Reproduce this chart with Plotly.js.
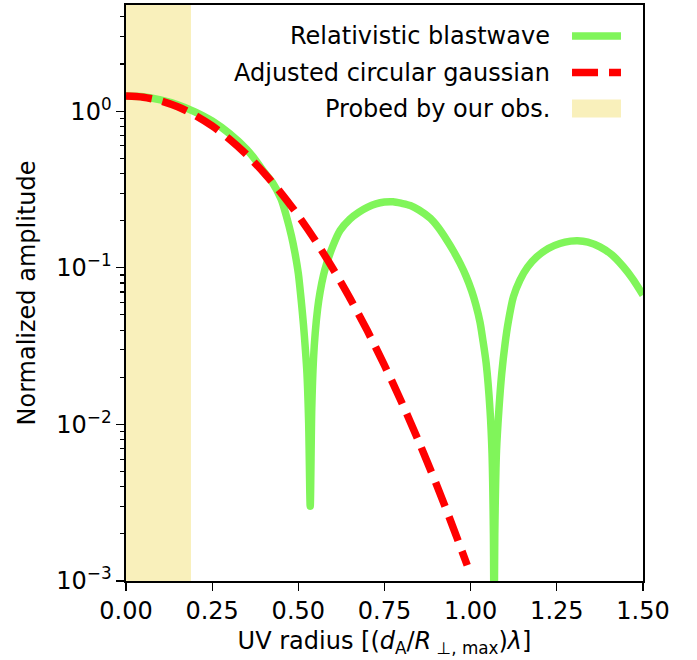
<!DOCTYPE html>
<html>
<head>
<meta charset="utf-8">
<script src="https://cdn.plot.ly/plotly-3.0.1.min.js"></script>
<style>html,body{margin:0;padding:0;background:#fff;}#chart{width:697px;height:660px;}</style>
</head>
<body>
<div id="chart"></div>
<script>
// Relativistic blastwave (green, solid)
const blastX = [0, 0.05, 0.1, 0.15, 0.2, 0.25, 0.3, 0.35, 0.375, 0.4, 0.425, 0.45, 0.465, 0.48, 0.49, 0.5, 0.508, 0.515, 0.52, 0.525, 0.53, 0.5345, 0.539, 0.544, 0.549, 0.556, 0.563, 0.573, 0.583, 0.6, 0.621, 0.65, 0.675, 0.7, 0.725, 0.75, 0.775, 0.8, 0.825, 0.85, 0.883, 0.905, 0.931, 0.95, 0.969, 0.987, 1.003, 1.015, 1.027, 1.035, 1.045, 1.056, 1.062, 1.066, 1.068, 1.07, 1.075, 1.082, 1.09, 1.1, 1.109, 1.124, 1.143, 1.165, 1.192, 1.225, 1.259, 1.29, 1.31, 1.34, 1.375, 1.41, 1.443, 1.47, 1.5];
const blastY = [1.25, 1.235, 1.18, 1.10, 0.99, 0.865, 0.72, 0.57, 0.49, 0.41, 0.35, 0.275, 0.215, 0.16, 0.125, 0.092, 0.063, 0.043, 0.031, 0.0212, 0.0102, 0.003, 0.0128, 0.0261, 0.0384, 0.0548, 0.0698, 0.0897, 0.1077, 0.1376, 0.173, 0.205, 0.226, 0.243, 0.256, 0.263, 0.264, 0.258, 0.25, 0.234, 0.207, 0.182, 0.150, 0.128, 0.107, 0.088, 0.071, 0.058, 0.045, 0.035, 0.0245, 0.0125, 0.0065, 0.002, 0.0004, 0.002, 0.0068, 0.0125, 0.021, 0.033, 0.045, 0.0653, 0.0835, 0.101, 0.1175, 0.133, 0.143, 0.148, 0.149, 0.146, 0.136, 0.121, 0.1015, 0.085, 0.067];

// Adjusted circular gaussian (red, dashed)
const gaussX = [0, 0.05, 0.1, 0.15, 0.2, 0.25, 0.3, 0.35, 0.4, 0.45, 0.5, 0.55, 0.6, 0.65, 0.7, 0.75, 0.8, 0.85, 0.9, 0.95, 0.99];
const gaussY = [1.25, 1.228, 1.165, 1.067, 0.943, 0.805, 0.663, 0.528, 0.405, 0.300, 0.215, 0.1485, 0.099, 0.0638, 0.0397, 0.0238, 0.0138, 0.00771, 0.00417, 0.00217, 0.00126];

// Probed range of UV radius
const probedRange = [0, 0.1885];

// Ticks
const xTickVals = [0, 0.25, 0.5, 0.75, 1.0, 1.25, 1.5];
const xTickText = ["0.00", "0.25", "0.50", "0.75", "1.00", "1.25", "1.50"];
const yTickVals = [1e-3, 1e-2, 1e-1, 1e0];
const yTickText = ["10<sup>−3</sup>", "10<sup>−2</sup>", "10<sup>−1</sup>", "10<sup>0</sup>"];
const yMinorVals = [];
[1e-3, 1e-2, 1e-1, 1].forEach(d => { for (let m = 2; m <= 9; m++) yMinorVals.push(m * d); });

const legendLabels = ["Relativistic blastwave", "Adjusted circular gaussian", "Probed by our obs."];

const GREEN = "#80f55a";
const RED = "#ff0000";
const BAND = "#f9f0bb";
const FONT = "DejaVu Sans";
const FS = 24;

const traces = [
  {x: blastX, y: blastY, type: "scatter", mode: "lines", name: legendLabels[0],
   line: {color: GREEN, width: 7.5, shape: "spline", smoothing: 0.8}, showlegend: false},
  {x: gaussX, y: gaussY, type: "scatter", mode: "lines", name: legendLabels[1],
   line: {color: RED, width: 7.5, dash: "26px,11px", shape: "spline", smoothing: 0.8}, showlegend: false}
];

// custom legend (text first, handle after)
const legTextX = 0.8234;
const legY = [0.946, 0.8828, 0.8203];
const hx0 = 0.8627, hx1 = 0.9574;

const annotations = legendLabels.map((t, i) => ({
  text: t, xref: "paper", yref: "paper", x: legTextX, y: legY[i],
  xanchor: "right", yanchor: "middle", showarrow: false,
  font: {family: FONT, size: FS, color: "#000"}
}));

const shapes = [
  {type: "rect", xref: "x", yref: "paper", x0: probedRange[0], x1: probedRange[1], y0: 0, y1: 1,
   fillcolor: BAND, line: {width: 0}, layer: "below"},
  {type: "line", xref: "paper", yref: "paper", x0: hx0, x1: hx1, y0: legY[0], y1: legY[0],
   line: {color: GREEN, width: 7.5}},
  {type: "line", xref: "paper", yref: "paper", x0: hx0, x1: hx1, y0: legY[1], y1: legY[1],
   line: {color: RED, width: 7.5, dash: "26px,11px"}},
  {type: "rect", xref: "paper", yref: "paper", x0: hx0, x1: hx1, y0: legY[2] - 0.0155, y1: legY[2] + 0.0155,
   fillcolor: BAND, line: {width: 0}}
];

const layout = {
  width: 697, height: 660,
  margin: {l: 126, r: 54, t: 5, b: 79, pad: 0},
  paper_bgcolor: "#fff", plot_bgcolor: "rgba(0,0,0,0)",
  font: {family: FONT, size: FS, color: "#000"},
  showlegend: false,
  xaxis: {
    range: [0, 1.5], tickvals: xTickVals, ticktext: xTickText,
    ticks: "outside", ticklen: 8, tickwidth: 1.3, tickcolor: "#000",
    showline: true, linecolor: "#000", linewidth: 1.6, mirror: true,
    showgrid: false, zeroline: false,
    tickfont: {family: FONT, size: FS},
    title: {text: "UV radius [(<i>d</i><sub>A</sub>/<i>R</i><sub> ⊥, max</sub>)<i>λ</i>]",
            font: {family: FONT, size: FS}, standoff: 8}
  },
  yaxis: {
    type: "log", range: [-3, 0.678], tickvals: yTickVals, ticktext: yTickText,
    ticks: "outside", ticklen: 8, tickwidth: 1.3, tickcolor: "#000",
    showline: true, linecolor: "#000", linewidth: 1.6, mirror: true,
    showgrid: false, zeroline: false,
    tickfont: {family: FONT, size: FS},
    minor: {tickvals: yMinorVals, ticks: "outside", ticklen: 4.5, tickwidth: 1.1, tickcolor: "#000", showgrid: false},
    title: {text: "Normalized amplitude", font: {family: FONT, size: FS}, standoff: 14}
  },
  shapes: shapes,
  annotations: annotations
};

Plotly.newPlot("chart", traces, layout, {staticPlot: true, displayModeBar: false});
</script>
</body>
</html>
